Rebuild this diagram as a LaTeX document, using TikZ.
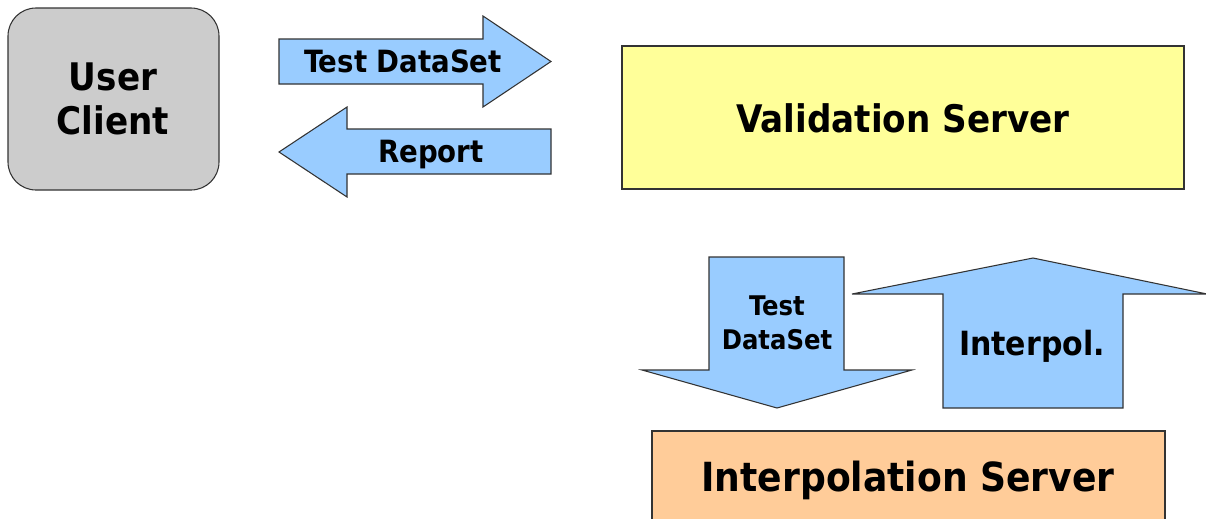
\documentclass[tikz,border=0pt]{standalone}
\usepackage{fontspec}
\setmainfont{DejaVu Sans Condensed}[BoldFont={DejaVu Sans Condensed Bold}]
\definecolor{arrowblue}{HTML}{99CCFF}
\definecolor{valyellow}{HTML}{FFFF99}
\definecolor{interpeach}{HTML}{FFCC99}
\definecolor{clientgray}{HTML}{CCCCCC}
\definecolor{edgegray}{HTML}{333333}
\begin{document}
\begin{tikzpicture}[x=0.75pt,y=-0.75pt,
  shapeline/.style={draw=edgegray, line width=0.8pt, line join=miter},
  blockarrow/.style={shapeline, fill=arrowblue},
  lbl/.style={font=\bfseries, anchor=base, inner sep=0pt, align=center},
  bigtxt/.style={lbl, font=\bfseries\fontsize{28.5}{34}\selectfont},
  hugetxt/.style={lbl, font=\bfseries\fontsize{30.1}{36}\selectfont},
  midtxt/.style={lbl, font=\bfseries\fontsize{23}{28}\selectfont},
  smalltxt/.style={lbl, font=\bfseries\fontsize{20.3}{25.5}\selectfont},
  interptxt/.style={lbl, font=\bfseries\fontsize{25}{30}\selectfont}]
\useasboundingbox (0,0) rectangle (1206,518);
\fill[white] (0,0) rectangle (1206,518);

% boxes
\draw[shapeline, fill=clientgray, rounded corners=21pt] (8,8) rectangle (219,190);
\draw[shapeline, fill=valyellow] (622,46) rectangle (1184,189);
\draw[shapeline, fill=interpeach] (652,431) rectangle (1165,530);

% block arrows
\draw[blockarrow] (279,39) -- (483,39) -- (483,16) -- (551,61.5) -- (483,107) -- (483,84) -- (279,84) -- cycle;
\draw[blockarrow] (551,129) -- (347,129) -- (347,107) -- (279,152) -- (347,197) -- (347,174) -- (551,174) -- cycle;
\draw[blockarrow] (709,257) -- (844,257) -- (844,370) -- (912,370) -- (777,408) -- (642,370) -- (709,370) -- cycle;
\draw[blockarrow] (943,408) -- (1123,408) -- (1123,294) -- (1207,294) -- (1033,258) -- (852,294) -- (943,294) -- cycle;

% texts
\node[bigtxt] (user) at (113,90) {User};
\node[bigtxt] (client) at (113,134) {Client};
\node[midtxt] (testds) at (403,72) {Test DataSet};
\node[midtxt] (report) at (431,162) {Report};
\node[bigtxt] (valid) at (903,132) {Validation Server};
\node[smalltxt] (test2) at (777,315) {Test};
\node[smalltxt] (dataset2) at (777,349) {DataSet};
\node[interptxt] (interpol) at (1032,355) {Interpol.};
\node[hugetxt] (interpsrv) at (908,491) {Interpolation Server};
\end{tikzpicture}
\end{document}
